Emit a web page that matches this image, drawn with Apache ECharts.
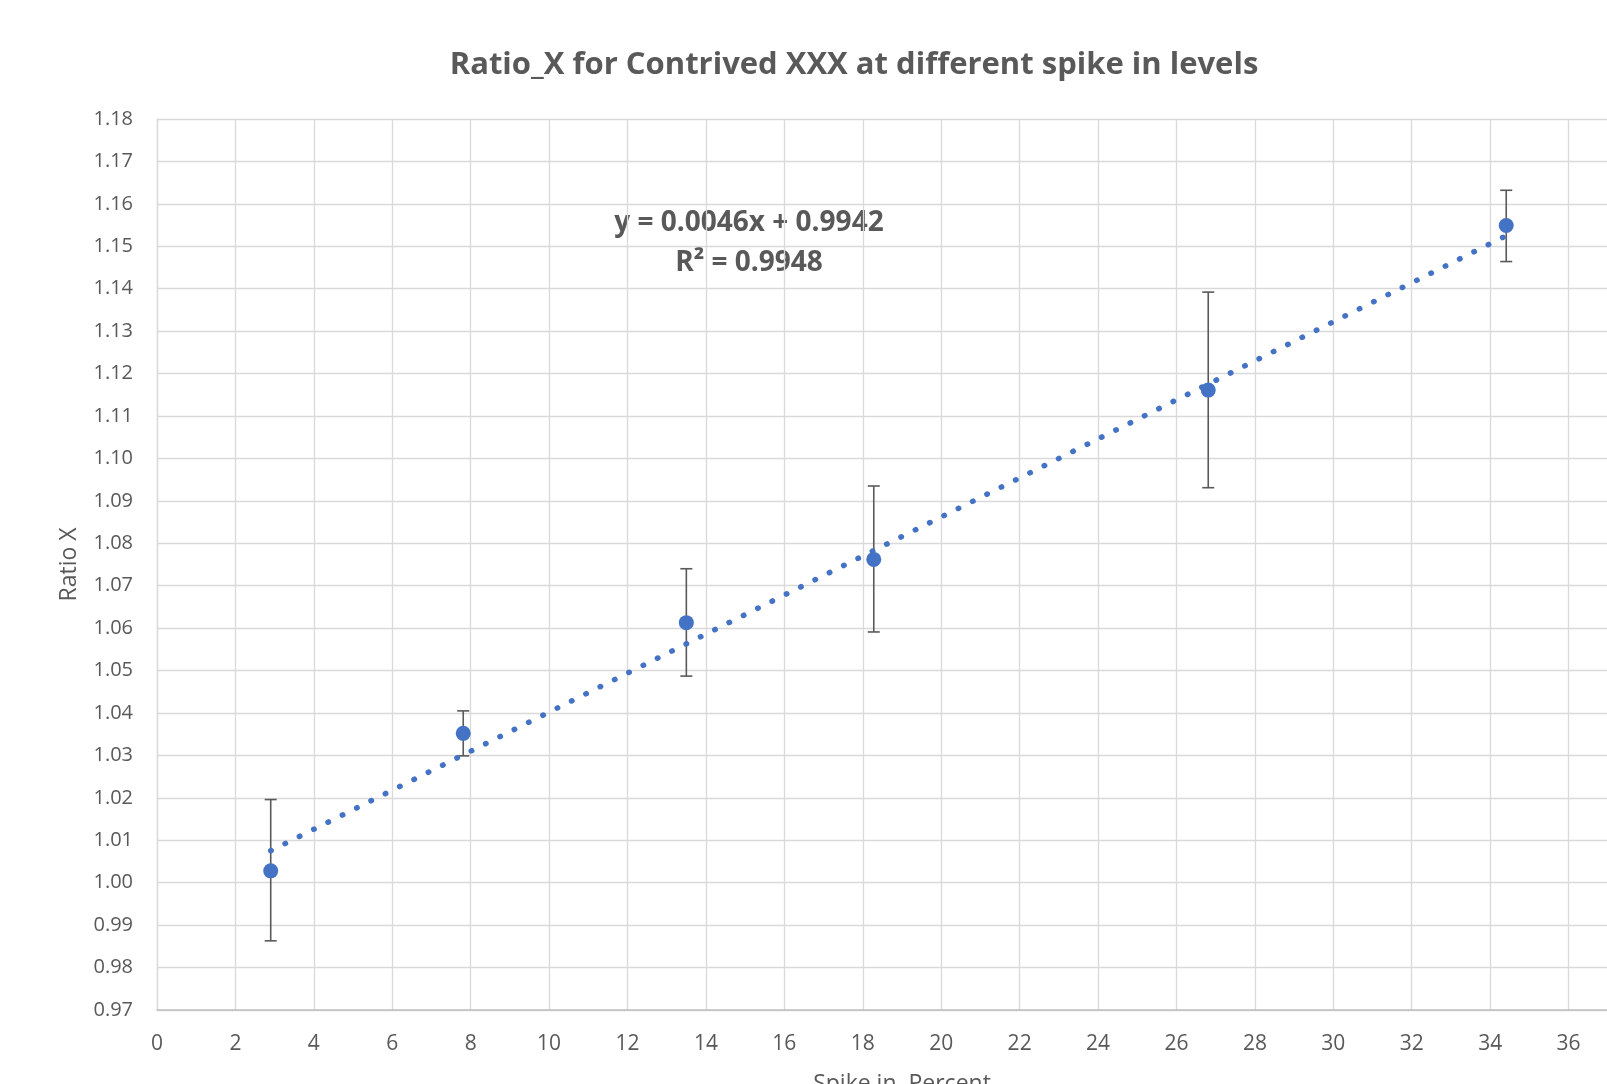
<!DOCTYPE html>
<html>
<head>
<meta charset="utf-8">
<style>html,body{margin:0;padding:0;background:#fff;}#c{width:1607px;height:1084px;}</style>
<script src="https://cdn.jsdelivr.net/npm/echarts@6/dist/echarts.min.js"></script>
</head>
<body>
<div id="c"></div>
<script>
// ---- data ----
const spikePercent = [2.90, 7.81, 13.50, 18.28, 26.81, 34.41];
const ratioX       = [1.0028, 1.0352, 1.0613, 1.0762, 1.1161, 1.1549];
const errPlus      = [0.0168, 0.0053, 0.0127, 0.0173, 0.0231, 0.0083];
const errMinus     = [0.0165, 0.0053, 0.0126, 0.0171, 0.0230, 0.0085];
const trendSlope = 0.0046;
const trendIntercept = 0.9942;
const trendR2 = 0.9948;
const xTicks = [0, 38, 2];          // min, max, interval
const yTicks = [0.97, 1.18, 0.01];  // min, max, interval
const titleText = 'Ratio_X for Contrived XXX at different spike in levels';
const xName = 'Spike in  Percent';
const yName = 'Ratio X';

const FONT = 'Open Sans';
const GREY = '#595959';
const BLUE = '#4472C4';

const chart = echarts.init(document.getElementById('c'), null, {renderer: 'canvas'});

const points = spikePercent.map((x, i) => [x, ratioX[i]]);
const errData = spikePercent.map((x, i) => [x, ratioX[i] + errPlus[i], ratioX[i] - errMinus[i]]);
const x0 = spikePercent[0], x1 = spikePercent[spikePercent.length - 1];
const trendData = [[x0, trendSlope * x0 + trendIntercept], [x1, trendSlope * x1 + trendIntercept]];

chart.setOption({
  animation: false,
  backgroundColor: '#ffffff',
  textStyle: {fontFamily: FONT},
  title: {
    text: titleText,
    left: 849,
    top: 45,
    textAlign: 'center',
    textStyle: {fontFamily: FONT, fontSize: 31, fontWeight: 'bold', color: GREY}
  },
  grid: {left: 157, right: -40, top: 119, bottom: 74, containLabel: false, outerBoundsMode: 'none'},
  xAxis: {
    type: 'value',
    min: xTicks[0], max: xTicks[1], interval: xTicks[2],
    name: xName, nameLocation: 'middle', nameGap: 63,
    nameTextStyle: {fontFamily: FONT, fontSize: 23, color: GREY},
    axisLine: {show: true, lineStyle: {color: '#bfbfbf', width: 1.5}},
    axisTick: {show: false},
    axisLabel: {fontFamily: FONT, fontSize: 21, color: GREY, margin: 24},
    splitLine: {show: true, lineStyle: {color: '#d9d9d9', width: 1.3}}
  },
  yAxis: {
    type: 'value',
    min: yTicks[0], max: yTicks[1], interval: yTicks[2],
    name: yName, nameLocation: 'middle', nameGap: 76, nameRotate: 90,
    nameTextStyle: {fontFamily: FONT, fontSize: 23, color: GREY},
    axisLine: {show: true, lineStyle: {color: '#d9d9d9', width: 1.3}},
    axisTick: {show: false},
    axisLabel: {fontFamily: FONT, fontSize: 20, color: GREY, margin: 24,
      formatter: v => v.toFixed(2)},
    splitLine: {show: true, lineStyle: {color: '#d9d9d9', width: 1.3}}
  },
  series: [
    {
      type: 'custom',
      name: 'error',
      z: 2,
      data: errData,
      renderItem: function (params, api) {
        const x = api.value(0);
        const hi = api.coord([x, api.value(1)]);
        const lo = api.coord([x, api.value(2)]);
        const cap = 6;
        const style = {stroke: GREY, lineWidth: 1.6, fill: null};
        return {
          type: 'group',
          children: [
            {type: 'line', shape: {x1: hi[0], y1: hi[1], x2: lo[0], y2: lo[1]}, style},
            {type: 'line', shape: {x1: hi[0] - cap, y1: hi[1], x2: hi[0] + cap, y2: hi[1]}, style},
            {type: 'line', shape: {x1: lo[0] - cap, y1: lo[1], x2: lo[0] + cap, y2: lo[1]}, style}
          ]
        };
      }
    },
    {
      type: 'scatter',
      name: 'Ratio X',
      z: 3,
      data: points,
      symbol: 'circle',
      symbolSize: 15,
      itemStyle: {color: BLUE, opacity: 1}
    },
    {
      type: 'line',
      name: 'Linear trend',
      z: 4,
      data: trendData,
      showSymbol: false,
      symbol: 'none',
      lineStyle: {color: BLUE, width: 5.5, type: [0.5, 15.5], cap: 'round'}
    }
  ],
  graphic: [
    {
      type: 'text',
      x: 749, y: 223,
      style: {
        text: 'y = ' + trendSlope.toFixed(4) + 'x + ' + trendIntercept.toFixed(4),
        align: 'center', verticalAlign: 'middle',
        font: 'bold 28px "' + FONT + '"', fill: GREY
      }
    },
    {
      type: 'text',
      x: 749, y: 263,
      style: {
        text: 'R² = ' + trendR2.toFixed(4),
        align: 'center', verticalAlign: 'middle',
        font: 'bold 28px "' + FONT + '"', fill: GREY
      }
    }
  ]
});
</script>
</body>
</html>
